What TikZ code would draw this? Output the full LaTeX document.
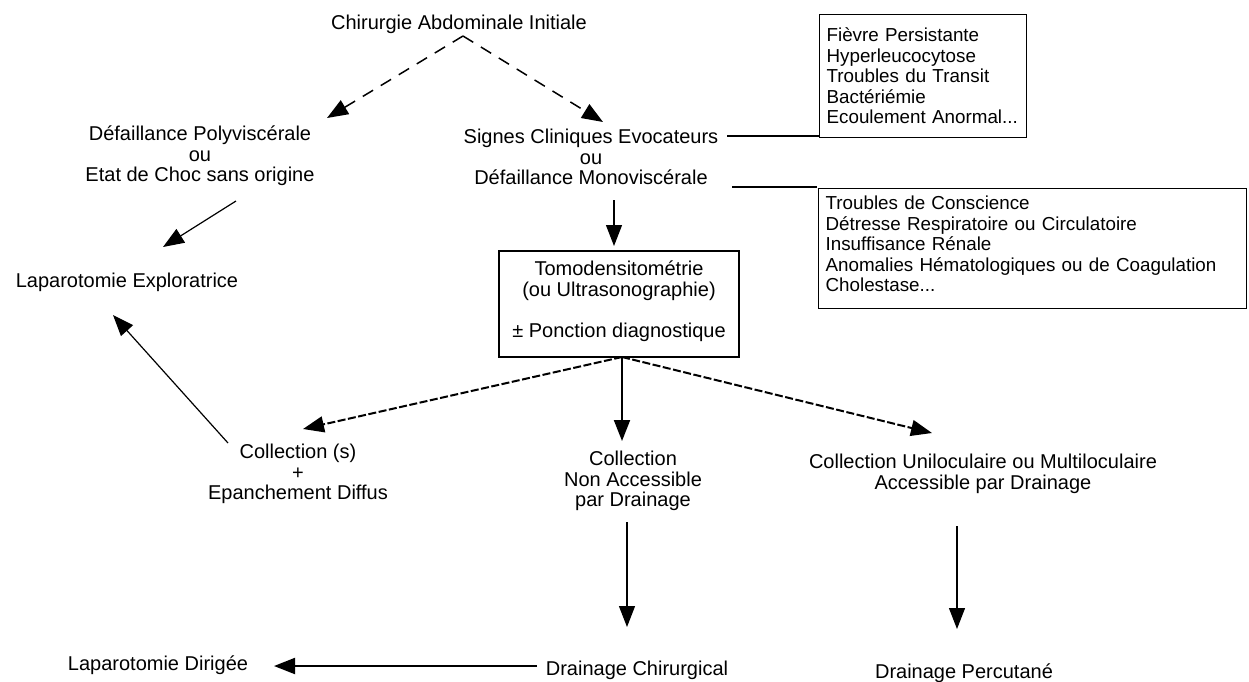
\documentclass[tikz,border=0pt]{standalone}
\usepackage{fontspec}
\setmainfont{Liberation Sans}
\usetikzlibrary{arrows.meta}
\begin{document}
\begin{tikzpicture}[x=1pt,y=-1pt,
  every node/.style={font=\fontsize{20}{20.5}\selectfont, inner sep=0pt},
  lbl/.style={align=center},
  sidebox/.style={draw, line width=1.2pt, align=left, inner xsep=7pt, anchor=north west,
    font=\fontsize{18.8}{20.5}\selectfont},
  tip/.style={-{Triangle[length=21pt,width=16pt]}},
  topdash/.style={tip, line width=1.5pt, dash pattern=on 12pt off 9pt},
  thickdash/.style={tip, line width=2pt, dash pattern=on 8pt off 2.5pt},
  thinarrow/.style={tip, line width=1.2pt},
  thickarrow/.style={tip, line width=2pt},
  plain/.style={line width=1.3pt}]
\useasboundingbox (0,0) rectangle (1249,681);

% text nodes
\node[anchor=base] (chir) at (459,29) {Chirurgie Abdominale Initiale};
\node[lbl] (poly) at (200,156) {Défaillance Polyviscérale\\ou\\Etat de Choc sans origine};
\node[lbl] (signes) at (591,157) {Signes Cliniques Evocateurs\\ou\\Défaillance Monoviscérale};
\node[anchor=base] (lapexp) at (127,287) {Laparotomie Exploratrice};
\node[draw, line width=2pt, align=center, minimum width=240pt, minimum height=106pt] (tomo) at (619,304)
  {Tomodensitométrie\\(ou Ultrasonographie)\\ \\± Ponction diagnostique\rule[-10pt]{0pt}{10pt}};
\node[sidebox, text width=193pt, minimum height=123pt] (box1) at (819,14)
  {\mbox{Fièvre Persistante}\\\mbox{Hyperleucocytose}\\\mbox{Troubles du Transit}\\\mbox{Bactériémie}\\\mbox{Ecoulement Anormal...}};
\node[sidebox, text width=414pt, minimum height=120pt] (box2) at (818,188)
  {\mbox{Troubles de Conscience}\\\mbox{Détresse Respiratoire ou Circulatoire}\\\mbox{Insuffisance Rénale}\\\mbox{Anomalies Hématologiques ou de Coagulation}\\\mbox{Cholestase...}\rule[-9pt]{0pt}{9pt}};
\node[lbl] (coll) at (298,474) {Collection (s)\\+\\Epanchement Diffus};
\node[lbl] (nonacc) at (633,481) {Collection\\Non Accessible\\par Drainage};
\node[lbl] (uniloc) at (983,474) {Collection Uniloculaire ou Multiloculaire\\Accessible par Drainage};
\node[anchor=base] (lapdir) at (158,670) {Laparotomie Dirigée};
\node[anchor=base] (drchir) at (637,675) {Drainage Chirurgical};
\node[anchor=base] (drperc) at (964,678) {Drainage Percutané};

% connector end points
\coordinate (apex) at (463,36);
\coordinate (polyIn) at (327,118);
\coordinate (signesIn) at (603,122);
\coordinate (polyOut) at (236,201);
\coordinate (lapexpIn) at (163,247);
\coordinate (signesOut) at (614,200);
\coordinate (tomoIn) at (614,246);
\coordinate (tomoOut) at (622,357);
\coordinate (collIn) at (303,429);
\coordinate (nonaccIn) at (622,441);
\coordinate (unilocIn) at (932,433);
\coordinate (collOut) at (228,443);
\coordinate (lapexpIn2) at (113,315);
\coordinate (nonaccOut) at (627,522);
\coordinate (drchirIn) at (627,627);
\coordinate (unilocOut) at (957,526);
\coordinate (drpercIn) at (957,629);
\coordinate (drchirOut) at (537,666);
\coordinate (lapdirIn) at (274,666);
\coordinate (signesR1) at (727,136);
\coordinate (box1In) at (box1.south west |- signesR1);
\coordinate (signesR2) at (732,187);
\coordinate (box2In) at (817,187);

% connectors
\draw[topdash] (apex) -- (polyIn);
\draw[topdash] (apex) -- (signesIn);
\draw[thinarrow] (polyOut) -- (lapexpIn);
\draw[thinarrow] (signesOut) -- (tomoIn);
\draw[thickdash] (tomoOut) -- (collIn);
\draw[thickarrow] (tomoOut) -- (nonaccIn);
\draw[thickdash] (tomoOut) -- (unilocIn);
\draw[thinarrow] (collOut) -- (lapexpIn2);
\draw[thinarrow] (nonaccOut) -- (drchirIn);
\draw[thinarrow] (unilocOut) -- (drpercIn);
\draw[thickarrow] (drchirOut) -- (lapdirIn);
\draw[plain] (signesR1) -- (box1In);
\draw[plain] (signesR2) -- (box2In);
\end{tikzpicture}
\end{document}
